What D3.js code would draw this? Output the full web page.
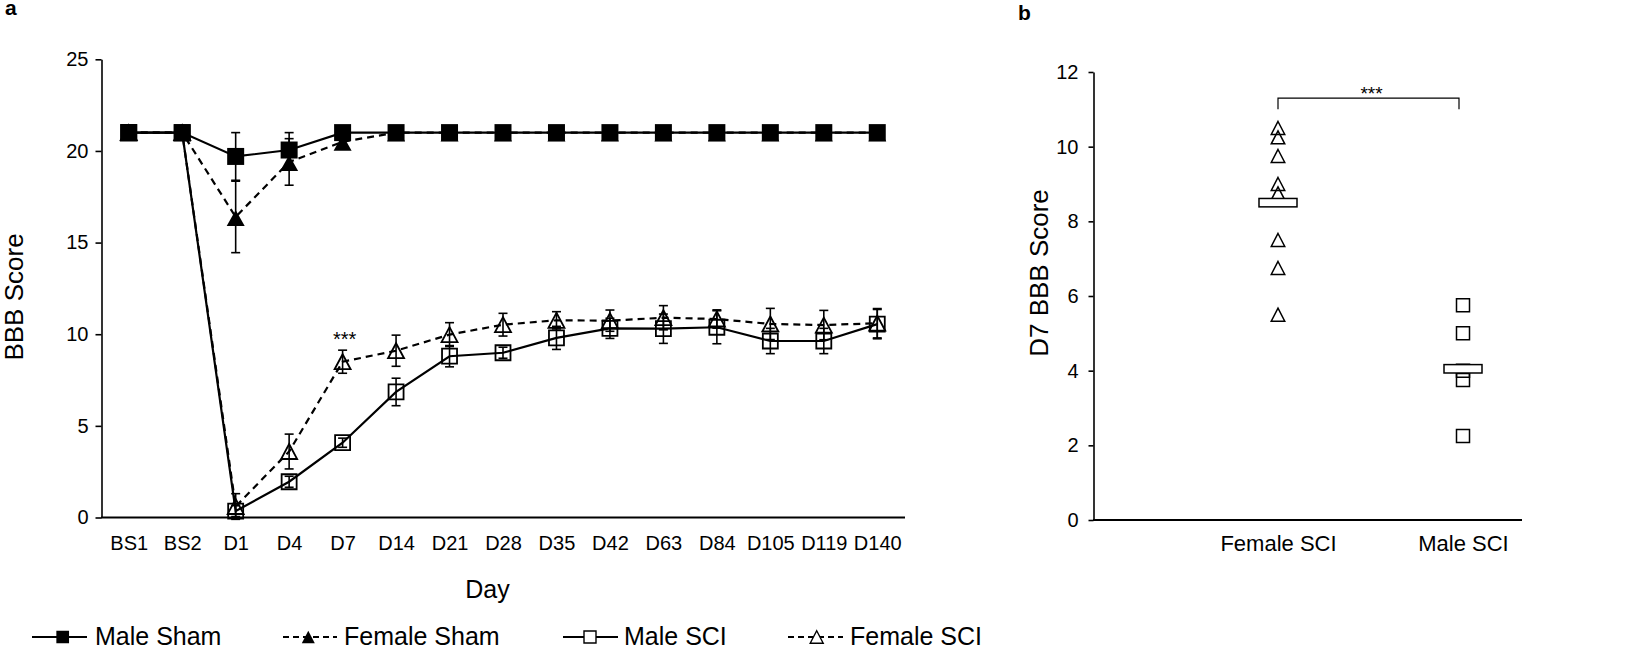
<!DOCTYPE html>
<html><head><meta charset="utf-8">
<script src="https://cdn.jsdelivr.net/npm/d3@7"></script>
<style>
body{margin:0;background:#fff}
svg{display:block}
text{font-family:"Liberation Sans",Arial,Helvetica,sans-serif;fill:#000}
</style>
</head><body>
<svg id="c" width="1643" height="649"></svg>
<script>
// ---------- data ----------
const days = ["BS1","BS2","D1","D4","D7","D14","D21","D28","D35","D42","D63","D84","D105","D119","D140"];
const maleSham      = [21,21,19.7,20.05,21,21,21,21,21,21,21,21,21,21,21];
const maleShamErr   = [0,0,1.3,0.95,0,0,0,0,0,0,0,0,0,0,0];
const femaleSham    = [21,21,16.4,19.4,20.5,21,21,21,21,21,21,21,21,21,21];
const femaleShamErr = [0,0,1.95,1.27,0.3,0,0,0,0,0,0,0,0,0,0];
const maleSCI       = [21,21,0.35,1.95,4.08,6.85,8.8,8.99,9.8,10.32,10.3,10.38,9.63,9.63,10.55];
const maleSCIErr    = [0,0,0.3,0.3,0.25,0.75,0.58,0.3,0.63,0.55,0.8,0.9,0.69,0.69,0.8];
const femaleSCI     = [21,21,0.6,3.6,8.5,9.1,9.98,10.52,10.76,10.74,10.9,10.83,10.56,10.5,10.6];
const femaleSCIErr  = [0,0,0.7,0.95,0.63,0.85,0.65,0.62,0.47,0.58,0.66,0.5,0.85,0.8,0.8];
const yTicksA = [0,5,10,15,20,25];
const sigDayA = "D7";

const groupsB = ["Female SCI","Male SCI"];
const femaleSCID7 = [10.5,10.25,9.75,9.0,8.75,7.5,6.75,5.5];
const maleSCID7 = [5.75,5.0,4.0,3.75,2.25];
const meansB = [8.5,4.05];
const yTicksB = [0,2,4,6,8,10,12];

const legendLabels = ["Male Sham","Female Sham","Male SCI","Female SCI"];

// ---------- helpers ----------
const sq = (cx,cy,s)=>`M${cx-s/2},${cy-s/2}h${s}v${s}h${-s}Z`;
const tri = (cx,cy,w,h)=>`M${cx},${cy-h/2}L${cx+w/2},${cy+h/2}L${cx-w/2},${cy+h/2}Z`;

const svg = d3.select("#c");
svg.append("rect").attr("width",1643).attr("height",649).attr("fill","#fff");

// ================= Panel a =================
const xA = d3.scalePoint().domain(days).range([102,904]).padding(0.5);
const yA = d3.scaleLinear().domain([0,25]).range([517.5,59.3]);

const gyA = svg.append("g").attr("transform","translate(101.5,0)")
  .call(d3.axisLeft(yA).tickValues(yTicksA).tickSize(6).tickSizeOuter(0).tickPadding(7));
gyA.selectAll("path,line").attr("stroke","#000").attr("stroke-width",1.6);
gyA.selectAll("text").attr("font-size",20).attr("font-family","Liberation Sans, Arial, sans-serif");

const gxA = svg.append("g").attr("transform","translate(0,517.5)")
  .call(d3.axisBottom(xA).tickSize(0).tickSizeOuter(0).tickPadding(18));
gxA.select(".domain").attr("d","M101,0H905").attr("stroke","#000").attr("stroke-width",1.8);
gxA.selectAll("text").attr("font-size",20).attr("font-family","Liberation Sans, Arial, sans-serif");

svg.append("text").attr("transform","translate(14,297) rotate(-90)").attr("dy","0.35em")
  .attr("text-anchor","middle").attr("font-size",26).text("BBB Score");
svg.append("text").attr("x",487.5).attr("y",598).attr("text-anchor","middle")
  .attr("font-size",25).text("Day");
svg.append("text").attr("x",5).attr("y",15).attr("font-size",21).attr("font-weight","bold").text("a");

const series = [
  {v:femaleSCI, e:femaleSCIErr, dash:"7,5", mk:"otri"},
  {v:maleSCI,   e:maleSCIErr,   dash:null,  mk:"osq"},
  {v:femaleSham,e:femaleShamErr,dash:"7,5", mk:"ftri"},
  {v:maleSham,  e:maleShamErr,  dash:null,  mk:"fsq"}
];
const line = d3.line().x((d,i)=>xA(days[i])).y(d=>yA(d));

series.forEach(s=>{
  svg.append("path").attr("d",line(s.v)).attr("fill","none").attr("stroke","#000")
    .attr("stroke-width",2.2).attr("stroke-dasharray",s.dash);
});
series.forEach(s=>{
  const g = svg.append("g").attr("stroke","#000").attr("stroke-width",1.6);
  s.v.forEach((v,i)=>{
    const e = s.e[i]; if(!e) return;
    const x = xA(days[i]);
    g.append("line").attr("x1",x).attr("x2",x).attr("y1",yA(v-e)).attr("y2",yA(v+e));
    g.append("line").attr("x1",x-4.5).attr("x2",x+4.5).attr("y1",yA(v-e)).attr("y2",yA(v-e));
    g.append("line").attr("x1",x-4.5).attr("x2",x+4.5).attr("y1",yA(v+e)).attr("y2",yA(v+e));
  });
});
series.forEach(s=>{
  s.v.forEach((v,i)=>{
    const x = xA(days[i]), y = yA(v);
    if(s.mk==="fsq") svg.append("path").attr("d",sq(x,y,17)).attr("fill","#000");
    else if(s.mk==="ftri") svg.append("path").attr("d",tri(x,y+1,18,16)).attr("fill","#000");
    else if(s.mk==="osq") svg.append("path").attr("d",sq(x,y,15)).attr("fill","none").attr("stroke","#000").attr("stroke-width",1.8);
    else svg.append("path").attr("d",tri(x,y,16,15)).attr("fill","none").attr("stroke","#000").attr("stroke-width",1.8);
  });
});
svg.append("text").attr("x",xA(sigDayA)+2).attr("y",346).attr("text-anchor","middle")
  .attr("font-size",20).text("***");

// legend
const legY = 637;
const legItems = [
  {x1:32, x2:87, mx:62.7, tx:95, dash:null, mk:"fsq"},
  {x1:283,x2:337,mx:308.3,tx:344,dash:"6,4", mk:"ftri"},
  {x1:563,x2:618,mx:590, tx:624, dash:null, mk:"osq"},
  {x1:788,x2:843,mx:816.7,tx:850,dash:"6,4", mk:"otri"}
];
legItems.forEach((it,k)=>{
  svg.append("line").attr("x1",it.x1).attr("x2",it.x2).attr("y1",legY).attr("y2",legY)
    .attr("stroke","#000").attr("stroke-width",2).attr("stroke-dasharray",it.dash);
  if(it.mk==="fsq") svg.append("path").attr("d",sq(it.mx,legY,12.7)).attr("fill","#000");
  else if(it.mk==="ftri") svg.append("path").attr("d",tri(it.mx,legY,13,12.5)).attr("fill","#000");
  else if(it.mk==="osq") svg.append("path").attr("d",sq(it.mx,legY,12)).attr("fill","#fff").attr("stroke","#000").attr("stroke-width",1.4);
  else svg.append("path").attr("d",tri(it.mx,legY,13,12.5)).attr("fill","#fff").attr("stroke","#000").attr("stroke-width",1.4);
  svg.append("text").attr("x",it.tx).attr("y",645).attr("font-size",25).text(legendLabels[k]);
});

// ================= Panel b =================
const xB = d3.scalePoint().domain(groupsB).range([1093,1648]).padding(1);
const yB = d3.scaleLinear().domain([0,12]).range([520,72]);

const gyB = svg.append("g").attr("transform","translate(1093.5,0)")
  .call(d3.axisLeft(yB).tickValues(yTicksB).tickSize(5).tickSizeOuter(0).tickPadding(10));
gyB.selectAll("path,line").attr("stroke","#000").attr("stroke-width",1.6);
gyB.selectAll("text").attr("font-size",20).attr("font-family","Liberation Sans, Arial, sans-serif");

const gxB = svg.append("g").attr("transform","translate(0,520)")
  .call(d3.axisBottom(xB).tickSize(0).tickSizeOuter(0).tickPadding(15));
gxB.select(".domain").attr("d","M1093,0H1522").attr("stroke","#000").attr("stroke-width",1.8);
gxB.selectAll("text").attr("font-size",22).attr("font-family","Liberation Sans, Arial, sans-serif");

svg.append("text").attr("transform","translate(1039,273) rotate(-90)").attr("dy","0.35em")
  .attr("text-anchor","middle").attr("font-size",26).text("D7 BBB Score");
svg.append("text").attr("x",1018).attr("y",20).attr("font-size",21).attr("font-weight","bold").text("b");

femaleSCID7.forEach(v=>{
  svg.append("path").attr("d",tri(xB(groupsB[0]),yB(v),13.5,13)).attr("fill","none")
    .attr("stroke","#000").attr("stroke-width",1.5);
});
maleSCID7.forEach(v=>{
  svg.append("path").attr("d",sq(xB(groupsB[1]),yB(v),13)).attr("fill","none")
    .attr("stroke","#000").attr("stroke-width",1.5);
});
meansB.forEach((m,i)=>{
  const x = xB(groupsB[i]);
  svg.append("rect").attr("x",x-19).attr("y",yB(m)-4.2).attr("width",38).attr("height",8.4)
    .attr("fill","#fff").attr("stroke","#000").attr("stroke-width",1.5);
});
// significance bracket
const bx0 = xB(groupsB[0]), bx1 = xB(groupsB[1]) - 4;
svg.append("path").attr("d",`M${bx0},${yB(11.0)}V${yB(11.3)}H${bx1}V${yB(11.0)}`)
  .attr("fill","none").attr("stroke","#000").attr("stroke-width",1.2);
svg.append("text").attr("x",(bx0+bx1)/2+3).attr("y",100).attr("text-anchor","middle")
  .attr("font-size",19).text("***");
</script>
</body></html>
